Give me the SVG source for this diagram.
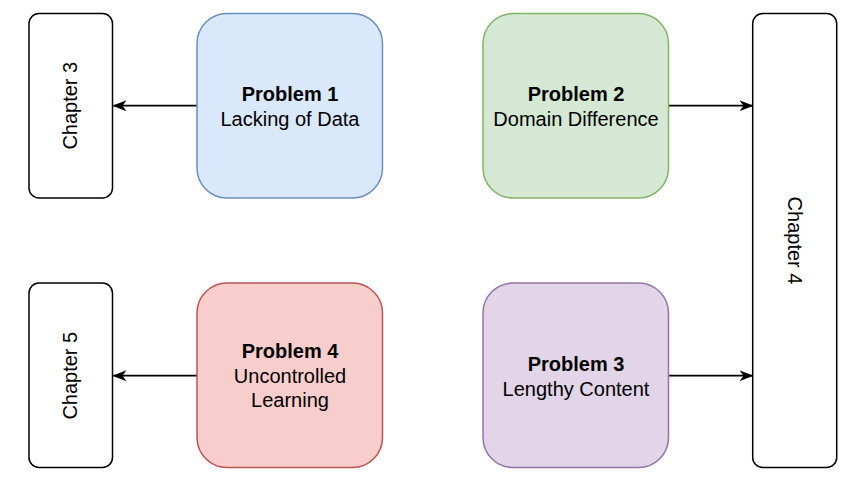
<svg xmlns="http://www.w3.org/2000/svg" width="846" height="478" viewBox="0 0 846 478">
<style>
.t{font-family:"Liberation Sans",Arial,sans-serif;font-size:20px;fill:#000;text-anchor:middle}
.b{font-weight:bold}
.ch{fill:#fff;stroke:#000;stroke-width:1.5}
.p{stroke-width:1.5}
.e{fill:none;stroke:#000;stroke-width:1.7}
</style>
<defs>
<marker id="a" viewBox="0 0 14 14" refX="13" refY="7" markerWidth="14" markerHeight="14" markerUnits="userSpaceOnUse" orient="auto">
<path d="M0,1.5 L14,7 L0,12.5 L4,7 Z" fill="#000"/>
</marker>
</defs>
<rect width="846" height="478" fill="#fff"/>
<g id="connectors">
<path class="e" d="M197,105.7 H113.5" marker-end="url(#a)"/>
<path class="e" d="M669,105.7 H752.5" marker-end="url(#a)"/>
<path class="e" d="M669,375.7 H752.5" marker-end="url(#a)"/>
<path class="e" d="M197,375.7 H113.5" marker-end="url(#a)"/>
</g>
<g id="chapter3">
<rect class="ch" x="29" y="13.5" width="83.5" height="184.5" rx="10"/>
<text class="t" transform="translate(77,105.7) rotate(-90)">Chapter 3</text>
</g>
<g id="chapter5">
<rect class="ch" x="29" y="283" width="83.5" height="184.5" rx="10"/>
<text class="t" transform="translate(77,375.7) rotate(-90)">Chapter 5</text>
</g>
<g id="chapter4">
<rect class="ch" x="752.7" y="13.5" width="84" height="454" rx="10"/>
<text class="t" transform="translate(788,240.5) rotate(90)">Chapter 4</text>
</g>
<g id="problem1">
<rect class="p" x="197" y="13.5" width="185.5" height="184.5" rx="30" fill="#dae8fc" stroke="#6c8ebf"/>
<text class="t b" x="290" y="101">Problem 1</text>
<text class="t" x="290" y="125.5">Lacking of Data</text>
</g>
<g id="problem2">
<rect class="p" x="483" y="13.5" width="185.5" height="184.5" rx="30" fill="#d5e8d4" stroke="#82b366"/>
<text class="t b" x="576" y="101">Problem 2</text>
<text class="t" x="576" y="125.5">Domain Difference</text>
</g>
<g id="problem3">
<rect class="p" x="483" y="283" width="185.5" height="184.5" rx="30" fill="#e1d5e7" stroke="#9673a6"/>
<text class="t b" x="576" y="371">Problem 3</text>
<text class="t" x="576" y="395.5">Lengthy Content</text>
</g>
<g id="problem4">
<rect class="p" x="197" y="283" width="185.5" height="184.5" rx="30" fill="#f8cecc" stroke="#b85450"/>
<text class="t b" x="290" y="358">Problem 4</text>
<text class="t" x="290" y="382.5">Uncontrolled</text>
<text class="t" x="290" y="407">Learning</text>
</g>
</svg>
